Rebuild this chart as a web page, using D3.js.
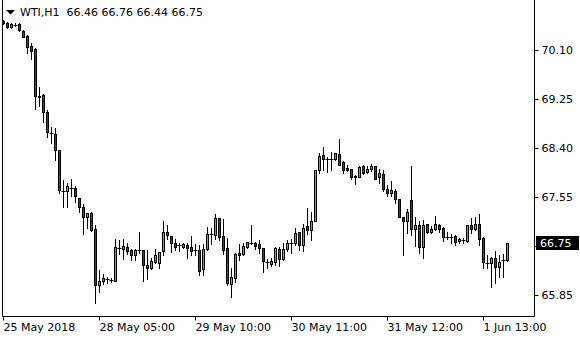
<!DOCTYPE html>
<html><head><meta charset="utf-8">
<script src="https://cdn.jsdelivr.net/npm/d3@7"></script>
<style>
html,body{margin:0;padding:0;background:#fff;}
svg{display:block;}
text{font-family:"DejaVu Sans",Verdana,sans-serif;font-size:11px;}
</style></head>
<body>
<svg id="c" width="580" height="340"></svg>
<script>
// Hourly WTI candles, 25 May 2018 .. 1 Jun 2018
const opens  = [70.60,70.57,70.50,70.54,70.55,70.43,70.35,70.17,70.12,69.31,69.32,69.02,68.66,68.65,68.37,67.66,67.66,67.71,67.71,67.53,67.37,67.21,67.27,66.99,66.02,66.10,66.12,66.11,66.10,66.67,66.65,66.68,66.63,66.54,66.63,66.63,66.37,66.31,66.42,66.40,66.61,66.94,66.87,66.75,66.71,66.69,66.71,66.69,66.63,66.63,66.30,66.65,66.90,66.89,67.19,66.87,66.67,66.04,66.14,66.58,66.56,66.68,66.76,66.75,66.73,66.67,66.42,66.39,66.43,66.65,66.48,66.65,66.75,66.76,66.95,66.71,67.05,66.97,67.14,68.01,68.27,68.21,68.21,68.21,68.30,68.16,68.05,68.03,67.91,67.90,68.08,67.98,68.04,68.09,67.89,67.95,67.69,67.62,67.66,67.52,67.21,67.13,67.49,67.00,67.06,66.68,67.08,66.94,66.99,67.06,67.01,66.86,66.85,66.87,66.78,66.80,66.78,67.06,66.99,67.08,66.84,66.41,66.40,66.49,66.34,66.46,66.46];
const highs  = [70.62,70.59,70.57,70.57,70.57,70.44,70.36,70.23,70.13,69.45,69.33,69.06,68.76,68.74,68.37,67.84,67.79,67.86,67.74,67.53,67.42,67.28,67.29,67.06,66.28,66.21,66.17,66.14,66.82,66.80,66.82,66.75,66.65,66.65,66.94,66.63,66.63,66.49,66.64,66.60,67.13,67.06,66.87,66.83,66.75,66.76,66.75,66.87,66.73,66.71,66.73,67.03,67.01,67.26,67.19,67.17,66.84,66.31,66.58,66.73,66.75,66.77,67.06,66.77,66.80,66.67,66.47,66.49,66.69,66.68,66.75,66.80,66.82,67.01,66.95,67.08,67.36,67.29,68.02,68.32,68.41,68.25,68.33,68.32,68.56,68.18,68.10,68.04,67.93,68.09,68.10,68.09,68.12,68.09,68.03,68.01,67.76,67.82,67.69,67.52,67.21,67.35,68.09,67.21,67.14,67.15,67.09,67.05,67.22,67.08,67.03,66.95,66.90,66.89,66.84,66.84,67.07,67.18,67.21,67.25,66.86,66.55,66.51,66.61,66.54,66.56,66.76];
const lows   = [70.55,70.48,70.48,70.51,70.43,70.32,70.05,69.95,69.07,69.13,68.85,68.59,68.49,68.19,67.62,67.38,67.38,67.56,67.46,67.29,66.90,67.01,66.96,65.71,65.91,66.04,66.06,66.08,66.09,66.56,66.47,66.56,66.46,66.46,66.57,66.09,66.13,66.30,66.40,66.32,66.55,66.83,66.60,66.63,66.62,66.67,66.49,66.55,66.55,66.20,66.20,66.63,66.73,66.82,66.80,66.56,66.03,65.82,66.08,66.46,66.54,66.66,66.73,66.65,66.57,66.25,66.32,66.35,66.37,66.35,66.46,66.62,66.58,66.72,66.63,66.62,66.91,66.80,67.13,67.96,68.02,67.99,68.02,68.19,68.10,67.97,68.00,67.87,67.78,67.90,67.95,67.96,68.00,67.87,67.79,67.65,67.56,67.57,67.44,67.20,66.55,66.93,66.89,66.70,66.57,66.50,66.93,66.93,66.97,66.95,66.79,66.83,66.75,66.72,66.76,66.75,66.77,66.93,66.98,66.72,66.31,66.31,65.99,66.05,66.17,66.16,66.44];
const closes = [70.57,70.50,70.55,70.54,70.45,70.33,70.16,70.09,69.31,69.30,69.02,68.68,68.66,68.36,67.67,67.66,67.74,67.71,67.56,67.37,67.20,67.27,66.97,66.02,66.10,66.14,66.12,66.11,66.69,66.67,66.70,66.62,66.54,66.63,66.63,66.37,66.31,66.44,66.54,66.60,66.95,66.89,66.75,66.69,66.71,66.73,66.67,66.62,66.63,66.27,66.65,66.91,66.90,67.19,66.86,66.63,66.05,66.17,66.56,66.55,66.70,66.77,66.76,66.70,66.67,66.44,66.42,66.44,66.67,66.48,66.64,66.75,66.75,66.93,66.72,67.02,66.98,67.13,68.02,68.26,68.21,68.21,68.21,68.31,68.11,68.02,68.01,67.90,67.89,68.07,67.97,68.04,68.09,67.87,67.96,67.69,67.62,67.68,67.52,67.21,67.13,67.29,67.00,67.06,66.69,67.06,66.95,67.00,67.08,66.99,66.86,66.86,66.85,66.77,66.82,66.80,67.06,67.00,67.09,66.82,66.43,66.41,66.49,66.34,66.42,66.46,66.75];

const priceTicks = [65.85, 66.70, 67.55, 68.40, 69.25, 70.10];
const timeTickIndex = [0, 24, 48, 72, 96, 120];
const timeTickLabels = ["25 May 2018", "28 May 05:00", "29 May 10:00", "30 May 11:00", "31 May 12:00", "1 Jun 13:00"];
const title = "WTI,H1";
const lastBar = [66.46, 66.76, 66.44, 66.75];

const svg = d3.select("#c");
const left = 2.5, right = 534.5, bottom = 316.5;

const y = d3.scaleLinear().domain([65.85, 70.10]).range([295, 50]);
const x = d3.scaleLinear().domain([0, 1]).range([3.5, 7.5]);

const data = opens.map((o, i) => ({i, o, h: highs[i], l: lows[i], c: closes[i]}));

const g = svg.append("g");
// wicks
g.selectAll("line.wick").data(data).join("line")
  .attr("x1", d => x(d.i)).attr("x2", d => x(d.i))
  .attr("y1", d => Math.round(y(d.h))).attr("y2", d => Math.round(y(d.l)) + 1)
  .attr("stroke", "#000").attr("stroke-width", 1).attr("shape-rendering", "crispEdges");
// bodies
g.selectAll("rect.body").data(data.filter(d => d.o !== d.c)).join("rect")
  .attr("x", d => x(d.i) - 1)
  .attr("y", d => Math.round(y(Math.max(d.o, d.c))) + 0.5)
  .attr("width", 2)
  .attr("height", d => Math.max(1, Math.round(y(Math.min(d.o, d.c))) - Math.round(y(Math.max(d.o, d.c)))))
  .attr("fill", d => d.c > d.o ? "#33cc33" : "#dd0000")
  .attr("stroke", "#000").attr("stroke-width", 1);
// dojis
g.selectAll("line.doji").data(data.filter(d => d.o === d.c)).join("line")
  .attr("x1", d => x(d.i) - 2).attr("x2", d => x(d.i) + 2)
  .attr("y1", d => Math.round(y(d.o)) + 0.5).attr("y2", d => Math.round(y(d.o)) + 0.5)
  .attr("stroke", "#000").attr("stroke-width", 1);

// frame
svg.append("path").attr("d", `M${left},0V${bottom}H${right}V0`)
  .attr("fill", "none").attr("stroke", "#000").attr("stroke-width", 1);

// current price
const cp = lastBar[3];
const fmt = d3.format(".2f");

// price axis (the label under the current-price box is hidden by it)
const ya = d3.axisRight(y).tickValues(priceTicks)
  .tickFormat(d => Math.abs(y(d) - y(cp)) < 12 ? "" : fmt(d))
  .tickSize(4).tickPadding(3);
const yg = svg.append("g").attr("transform", `translate(${right},0)`).call(ya);
yg.select(".domain").remove();
yg.selectAll("text").attr("fill", "#000").style("font-size", "11px").style("font-family", '"DejaVu Sans",sans-serif');
yg.selectAll("line").attr("stroke", "#000");

// time axis
const xa = d3.axisBottom(x).tickValues(timeTickIndex).tickFormat((d, k) => timeTickLabels[k]).tickSize(4).tickPadding(3);
const xg = svg.append("g").attr("transform", `translate(0,${bottom})`).call(xa);
xg.select(".domain").remove();
xg.selectAll("line").attr("stroke", "#000").attr("transform", "translate(-0.5,0)");
xg.selectAll("text").attr("text-anchor", "start").attr("dx", "-0.5")
  .attr("fill", "#000").style("font-size", "11px").style("font-family", '"DejaVu Sans",sans-serif');

// current price box
svg.append("rect").attr("x", 536).attr("y", Math.round(y(cp)) - 7).attr("width", 43).attr("height", 14).attr("fill", "#000");
svg.append("text").attr("x", 540).attr("y", Math.round(y(cp)) + 4).attr("fill", "#fff").text(fmt(cp));

// title
svg.append("path").attr("d", "M6,10H15L10.5,14.5Z").attr("fill", "#000");
svg.append("text").attr("x", 20).attr("y", 16).attr("fill", "#000")
  .style("white-space", "pre").attr("xml:space", "preserve")
  .text(title + "  " + lastBar.map(fmt).join(" "));
</script>
</body></html>
